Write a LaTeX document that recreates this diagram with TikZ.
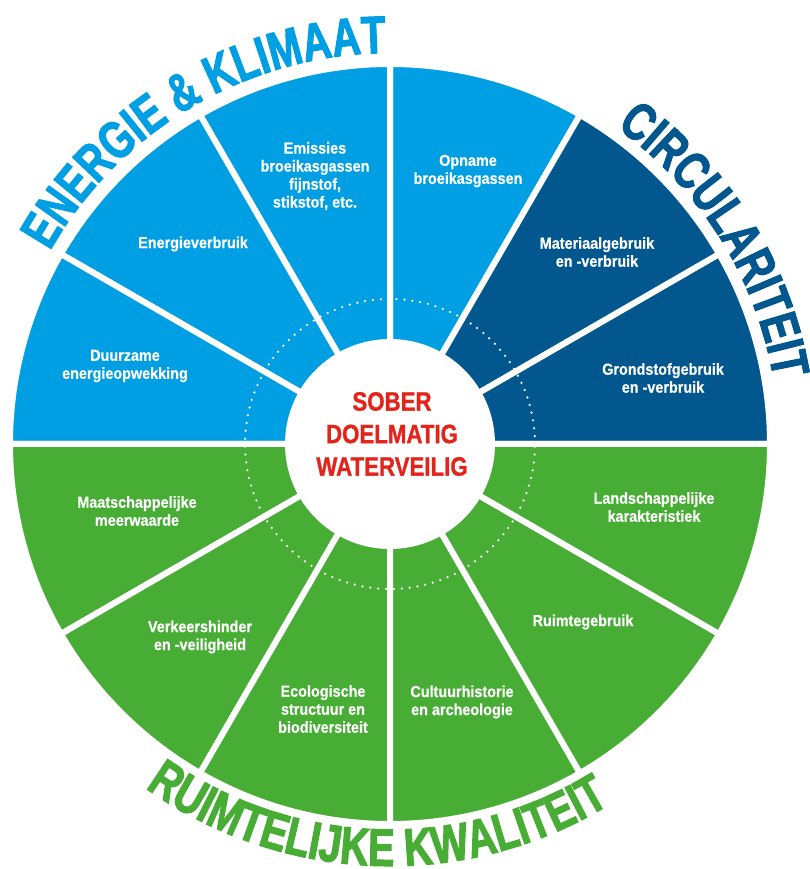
\documentclass[tikz,border=0pt]{standalone}
\usepackage{fontspec}
\setmainfont{Liberation Sans}
\newfontfamily\labfont[FakeStretch=0.9,FakeBold=0.5]{Liberation Sans}
\newfontfamily\midfont[FakeStretch=0.84,FakeBold=1]{Liberation Sans}
\newfontfamily\headfont[FakeStretch=0.75,FakeBold=2]{Liberation Sans}
\usetikzlibrary{decorations.text}

\definecolor{lichtblauw}{HTML}{009FE3}
\definecolor{donkerblauw}{HTML}{02588E}
\definecolor{groen}{HTML}{48AD35}
\definecolor{rood}{HTML}{E3241B}

\tikzset{
	vak/.style = {draw = white, line width = 6pt, line join = round},
	vaktekst/.style = {text = white, align = center, font = \labfont\bfseries\fontsize{16}{18}\selectfont},
	kern/.style = {text = rood, align = center, font = \midfont\bfseries\fontsize{26.5}{32.5}\selectfont},
	stippel/.style = {draw = white, line width = 2.5pt, line cap = round, dash pattern = on 0pt off 7.9pt},
	kop/.style = {decorate, decoration = {text along path, text align = center}}
}

\begin{document}
\begin{tikzpicture}[x = 1pt, y = 1pt]
	\useasboundingbox (-390,-425) rectangle (420,444);
	% energie & klimaat
	\path[vak, fill = lichtblauw] (0,0) -- (60:380) arc (60:90:380) -- cycle;
	\path[vak, fill = lichtblauw] (0,0) -- (90:380) arc (90:120:380) -- cycle;
	\path[vak, fill = lichtblauw] (0,0) -- (120:380) arc (120:150:380) -- cycle;
	\path[vak, fill = lichtblauw] (0,0) -- (150:380) arc (150:180:380) -- cycle;
	% circulariteit
	\path[vak, fill = donkerblauw] (0,0) -- (0:380) arc (0:30:380) -- cycle;
	\path[vak, fill = donkerblauw] (0,0) -- (30:380) arc (30:60:380) -- cycle;
	% ruimtelijke kwaliteit
	\path[vak, fill = groen] (0,0) -- (180:380) arc (180:210:380) -- cycle;
	\path[vak, fill = groen] (0,0) -- (210:380) arc (210:240:380) -- cycle;
	\path[vak, fill = groen] (0,0) -- (240:380) arc (240:270:380) -- cycle;
	\path[vak, fill = groen] (0,0) -- (270:380) arc (270:300:380) -- cycle;
	\path[vak, fill = groen] (0,0) -- (300:380) arc (300:330:380) -- cycle;
	\path[vak, fill = groen] (0,0) -- (330:380) arc (330:360:380) -- cycle;

	\draw[stippel] (0,0) circle (145);
	\fill[white] (0,0) circle (105);

	\node[vaktekst] (opname) at (78,273) {Opname\\broeikasgassen};
	\node[vaktekst] (emissies) at (-75,268) {Emissies\\broeikasgassen\\fijnstof,\\stikstof, etc.};
	\node[vaktekst] (energieverbruik) at (-197,200) {Energieverbruik};
	\node[vaktekst] (opwekking) at (-265,78) {Duurzame\\energieopwekking};
	\node[vaktekst] (materiaal) at (207,192) {Materiaalgebruik\\en -verbruik};
	\node[vaktekst] (grondstof) at (273,66) {Grondstofgebruik\\en -verbruik};
	\node[vaktekst] (landschap) at (264,-63) {Landschappelijke\\karakteristiek};
	\node[vaktekst] (ruimte) at (193,-178) {Ruimtegebruik};
	\node[vaktekst] (cultuur) at (72,-258) {Cultuurhistorie\\en archeologie};
	\node[vaktekst] (ecologie) at (-67,-265) {Ecologische\\structuur en\\biodiversiteit};
	\node[vaktekst] (verkeer) at (-190,-193) {Verkeershinder\\en -veiligheid};
	\node[vaktekst] (meerwaarde) at (-253,-67) {Maatschappelijke\\meerwaarde};

	\node[kern] (sober) at (2,10) {SOBER\\DOELMATIG\\WATERVEILIG};

	% koppen langs de rand
	\path[kop, decoration = {text color = lichtblauw,
		text = {|\headfont\bfseries\fontsize{53}{60}\selectfont|ENERGIE {\&} KLIMAAT}}]
		(160.5:391) arc (160.5:80.5:391);
	\path[kop, decoration = {text color = donkerblauw,
		text = {|\headfont\bfseries\fontsize{53}{60}\selectfont|CIRCULARITEIT}}]
		(72:389) arc (72:-8:389);
	\path[kop, decoration = {text color = groen,
		text = {|\headfont\bfseries\fontsize{53}{60}\selectfont|RUIMTELIJKE KWALITEIT}}]
		(-132:422) arc (-132:-52:422);
\end{tikzpicture}
\end{document}
